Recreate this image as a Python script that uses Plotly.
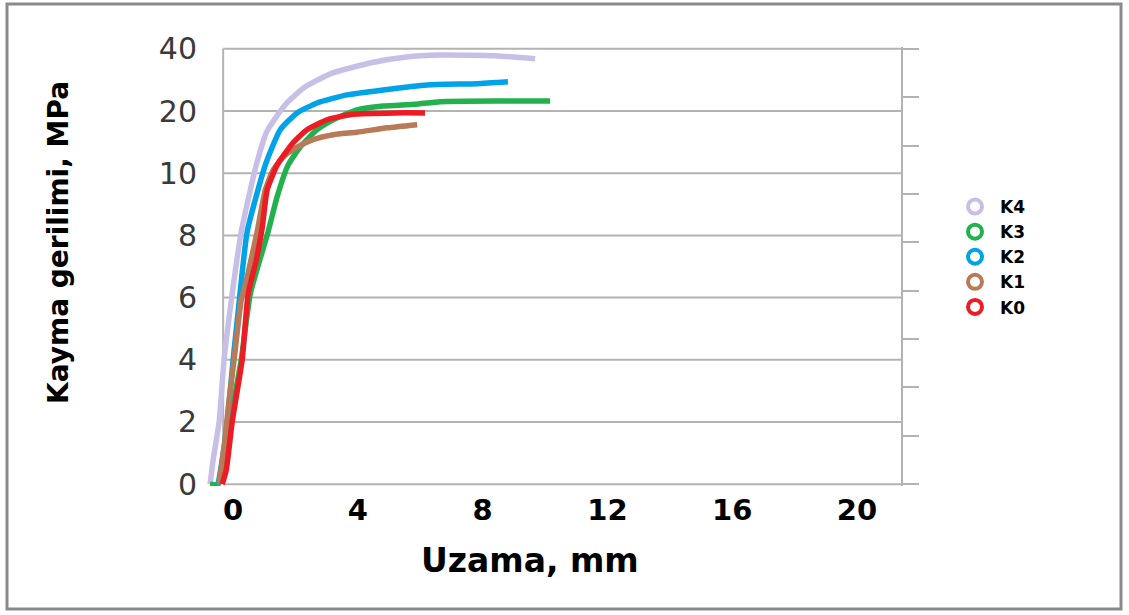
import plotly.graph_objects as go

# ---- data ----
Y_TICK_LABELS = ["0", "2", "4", "6", "8", "10", "20", "40"]
X_TICKS = [0, 4, 8, 12, 16, 20]
SERIES_NAMES = ["K4", "K3", "K2", "K1", "K0"]
SERIES_COLORS = ["#c8bfe7", "#22b14c", "#00a2e8", "#b97a57", "#ed1c24"]

K4_X = [-0.42, -0.32, -0.13, 0.03, 0.29, 0.58, 1.06, 1.41, 2.02, 2.63, 3.49, 4.78, 5.87, 6.96, 8.72, 10.0]
K4_Y = [0, 0.39, 1.0, 2.0, 3.06, 4.06, 5.13, 5.68, 6.12, 6.39, 6.61, 6.78, 6.87, 6.9, 6.89, 6.84]

K3_X = [-0.42, -0.16, 0.03, 0.22, 0.58, 0.87, 1.44, 1.73, 2.08, 2.47, 3.01, 3.53, 4.29, 5.13, 6.15, 6.96, 8.88, 10.48]
K3_Y = [0, 0, 0.39, 1.0, 2.0, 3.06, 4.06, 4.62, 5.13, 5.42, 5.70, 5.86, 6.02, 6.08, 6.11, 6.15, 6.16, 6.16]

K2_X = [-0.16, -0.03, 0.13, 0.32, 0.54, 0.77, 1.35, 1.83, 2.37, 3.01, 3.97, 5.13, 6.54, 8.14, 9.13]
K2_Y = [0, 0.39, 1.0, 2.0, 3.06, 4.06, 5.13, 5.70, 5.97, 6.13, 6.26, 6.34, 6.42, 6.44, 6.47]

K1_X = [-0.13, 0.06, 0.19, 0.35, 0.58, 0.77, 1.09, 1.35, 1.60, 1.92, 2.37, 2.88, 3.53, 4.29, 5.26, 6.22]
K1_Y = [0, 0.71, 1.35, 2.0, 2.96, 3.33, 4.06, 4.73, 5.05, 5.26, 5.42, 5.54, 5.62, 5.66, 5.73, 5.78]

K0_X = [-0.03, 0.10, 0.29, 0.61, 0.80, 1.06, 1.25, 1.41, 1.73, 2.24, 2.69, 3.33, 4.17, 5.51, 6.47]
K0_Y = [0, 0.23, 1.0, 2.0, 3.06, 3.6, 4.12, 4.73, 5.13, 5.49, 5.70, 5.86, 5.95, 5.97, 5.97]

SERIES_X = [K4_X, K3_X, K2_X, K1_X, K0_X]
SERIES_Y = [K4_Y, K3_Y, K2_Y, K1_Y, K0_Y]

X_RANGE = [-0.55, 21.73]
Y_RANGE = [-0.03, 7.03]
N_RIGHT = 9
Y2_RANGE = [Y_RANGE[0] * N_RIGHT / 7, Y_RANGE[1] * N_RIGHT / 7]

W, H = 1129, 615
ML, MR, MT, MB = 206, 228, 47, 129
PW, PH = W - ML - MR, H - MT - MB


def px(x):
    return (x - ML) / PW


def py(y):
    return (H - MB - y) / PH


GRID = "#b3b3b3"
BOLD = "DejaVu Sans"

fig = go.Figure()

for name, color, xs, ys in zip(SERIES_NAMES, SERIES_COLORS, SERIES_X, SERIES_Y):
    fig.add_trace(go.Scatter(
        x=xs, y=ys, mode="lines", name=name, showlegend=False,
        line=dict(color=color, width=5.5, shape="spline", smoothing=0.5),
        hoverinfo="skip",
    ))

for name, color in zip(SERIES_NAMES, SERIES_COLORS):
    fig.add_trace(go.Scatter(
        x=[None], y=[None], mode="markers", name=name,
        marker=dict(symbol="circle-open", size=14, color=color, line=dict(width=4, color=color)),
    ))

# dummy trace for the right-hand axis
fig.add_trace(go.Scatter(x=[], y=[], yaxis="y2", showlegend=False, hoverinfo="skip"))

# horizontal grid lines start at the vertical axis line (x = 0)
grid_shapes = [
    dict(type="line", xref="x", yref="y", x0=0, x1=X_RANGE[1], y0=i, y1=i,
         line=dict(color=GRID, width=2), layer="below")
    for i in range(len(Y_TICK_LABELS))
]
# vertical axis line at x = 0
grid_shapes.append(
    dict(type="line", xref="x", yref="y", x0=0, x1=0, y0=0, y1=len(Y_TICK_LABELS) - 1,
         line=dict(color=GRID, width=2), layer="below")
)

fig.update_layout(
    width=W, height=H,
    margin=dict(l=ML, r=MR, t=MT, b=MB),
    paper_bgcolor="white", plot_bgcolor="white",
    xaxis=dict(
        range=X_RANGE, tickvals=X_TICKS, ticktext=[str(v) for v in X_TICKS],
        showgrid=False, zeroline=False,
        showline=False, ticks="", ticklabelshift=10, ticklabelstandoff=4,
        tickfont=dict(family=BOLD, size=29, color="black", weight="bold"),
    ),
    yaxis=dict(
        range=Y_RANGE, tickvals=list(range(len(Y_TICK_LABELS))), ticktext=Y_TICK_LABELS,
        showgrid=False, zeroline=False,
        showline=False, ticks="", ticklabelstandoff=8,
        tickfont=dict(family="DejaVu Sans", size=30, color="#3a3a3a"),
    ),
    yaxis2=dict(
        range=Y2_RANGE, overlaying="y", side="right", anchor="x",
        tickvals=list(range(N_RIGHT + 1)), showticklabels=False,
        ticks="outside", ticklen=16, tickwidth=2, tickcolor=GRID,
        showline=True, linecolor=GRID, linewidth=2, showgrid=False, zeroline=False,
    ),
    legend=dict(
        x=px(950), y=py(189), xanchor="left", yanchor="top",
        font=dict(family=BOLD, size=17, color="black", weight="bold"),
        bgcolor="rgba(0,0,0,0)", tracegroupgap=0, itemwidth=40,
    ),
    showlegend=True,
    annotations=[
        dict(text="<b>Uzama, mm</b>", x=px(530), y=py(560), xref="paper", yref="paper",
             showarrow=False, xanchor="center", yanchor="middle",
             font=dict(family=BOLD, size=33, color="black")),
        dict(text="<b>Kayma gerilimi, MPa</b>", x=px(58), y=py(243), xref="paper", yref="paper",
             showarrow=False, xanchor="center", yanchor="middle", textangle=-90,
             font=dict(family=BOLD, size=28, color="black")),
    ],
    shapes=grid_shapes + [
        # outer chart border
        dict(type="rect", xref="paper", yref="paper",
             x0=px(7), x1=px(1121), y0=py(609), y1=py(4),
             line=dict(color="#8a8a8a", width=3), fillcolor="rgba(0,0,0,0)", layer="below"),
    ],
)

fig.write_html("out.html")
